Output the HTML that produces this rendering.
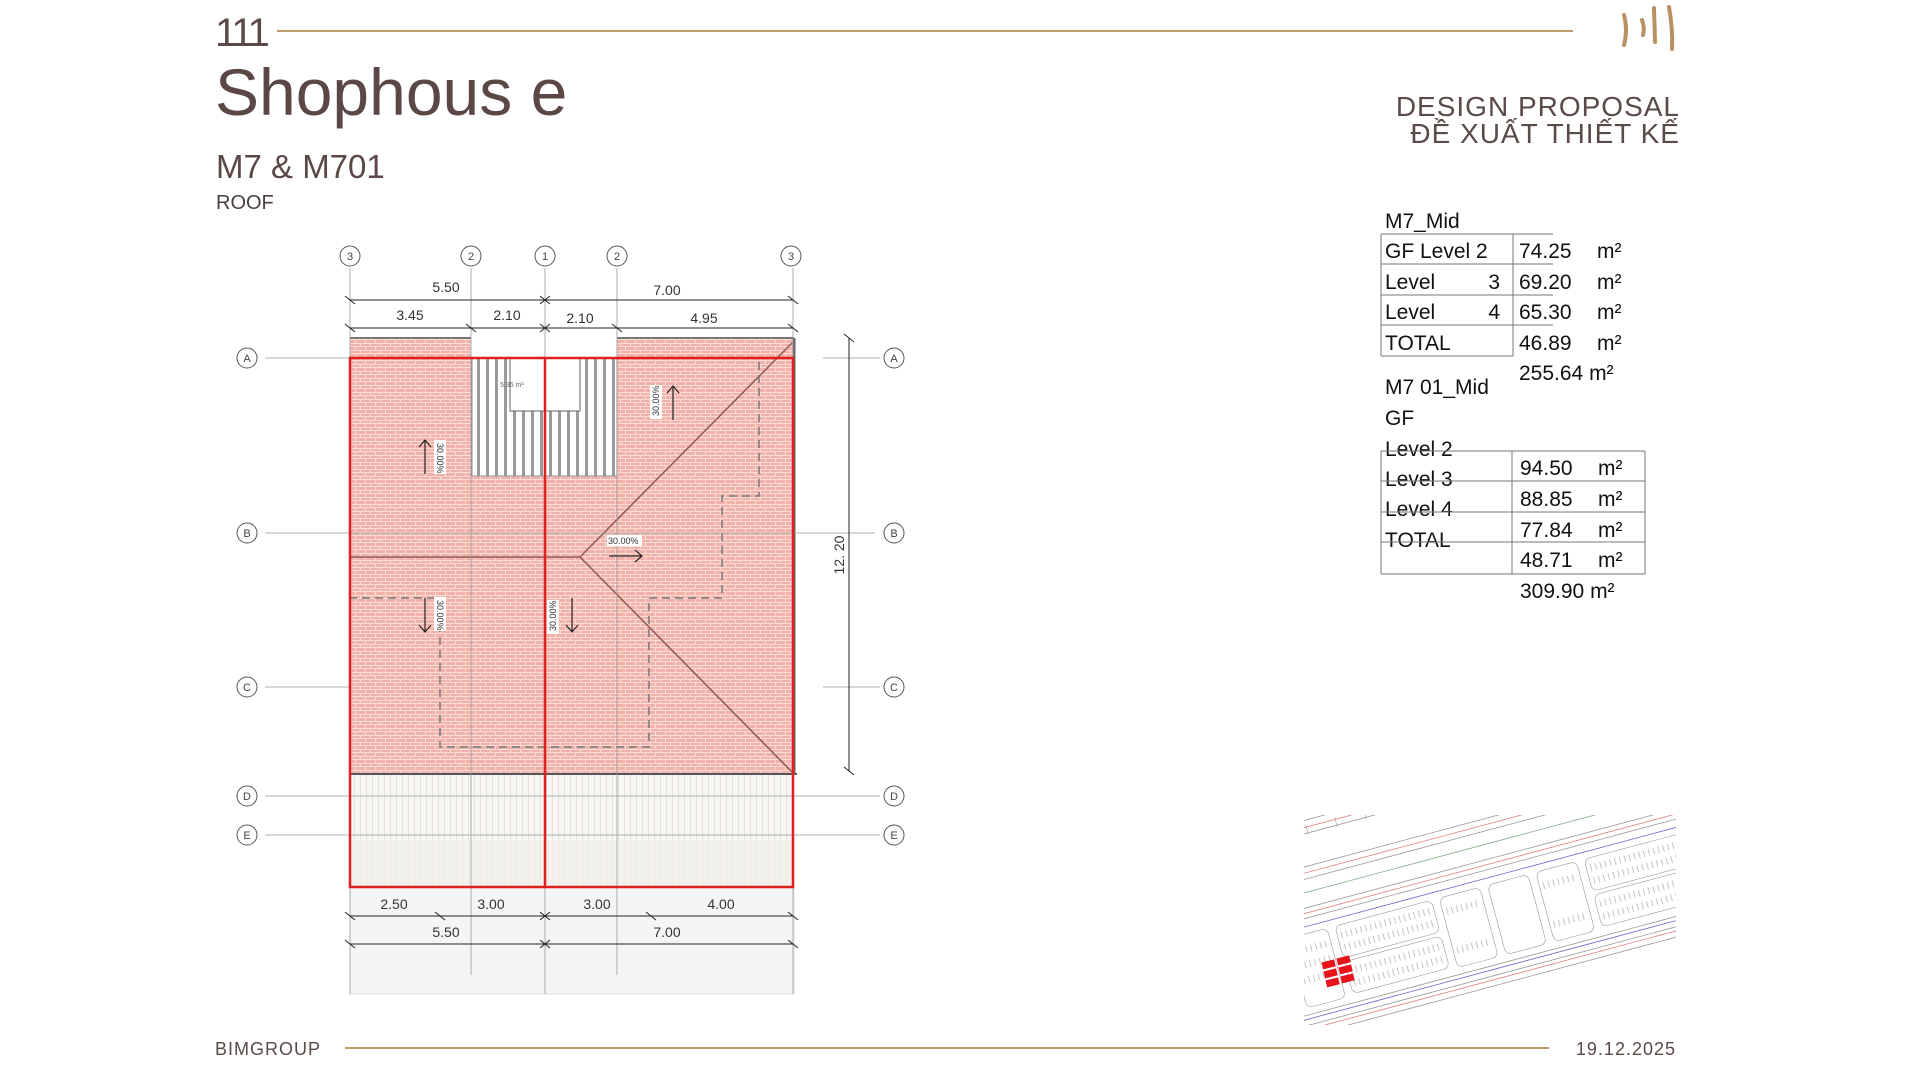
<!DOCTYPE html>
<html><head><meta charset="utf-8"><style>
html,body{margin:0;padding:0;background:#fff;}
body{width:1920px;height:1080px;overflow:hidden;position:relative;font-family:"Liberation Sans",sans-serif;}
svg{position:absolute;left:0;top:0;}
</style></head><body>
<svg width="1920" height="1080" viewBox="0 0 1920 1080" xmlns="http://www.w3.org/2000/svg">
<defs>
<pattern id="tile" width="10" height="7" patternUnits="userSpaceOnUse">
<rect width="10" height="7" fill="#f2b2aa"/>
<path d="M0 0.5H10 M0 3.5H10 M0.5 0V3.5 M5.5 3.5V7" stroke="#fbdcd6" stroke-width="1" fill="none"/>
</pattern>
<pattern id="stair" width="9" height="10" patternUnits="userSpaceOnUse">
<rect width="9" height="10" fill="#fff"/><rect x="0" width="3" height="10" fill="#9a9a9a"/>
</pattern>
<pattern id="lower" width="6" height="10" patternUnits="userSpaceOnUse">
<rect width="6" height="10" fill="#f8f6f3"/><path d="M0.5 0V10" stroke="#e4e0da" stroke-width="1"/>
</pattern>
<clipPath id="sc"><rect x="1304" y="815" width="372" height="210"/></clipPath>
</defs>

<!-- header -->
<text x="215" y="46" font-size="40" fill="#5a4a48" letter-spacing="-3">111</text>
<line x1="277" y1="31" x2="1573" y2="31" stroke="#c09a6b" stroke-width="2"/>
<text x="215" y="115" font-size="66" fill="#5a4746">Shophous e</text>
<text x="216" y="178" font-size="33" fill="#5a4746">M7 &amp; M701</text>
<text x="216" y="209" font-size="20" fill="#4a4040">ROOF</text>
<!-- logo -->
<g stroke="#b89064" stroke-width="4" stroke-linecap="round" fill="none">
<path d="M1624 15 Q1628 30 1624 45"/><path d="M1642 20 Q1645 28 1643 35"/><path d="M1654 8 L1655 42"/><path d="M1669 7 Q1673 30 1672 49"/>
</g>
<text x="1680" y="116" font-size="28" fill="#5a4a48" text-anchor="end" letter-spacing="1">DESIGN PROPOSAL</text>
<text x="1680" y="143" font-size="28" fill="#5a4a48" text-anchor="end" letter-spacing="1">ĐỀ XUẤT THIẾT KẾ</text>

<!-- tables -->
<g font-size="21" fill="#111">
<text x="1385" y="228">M7_Mid</text>
<g stroke="#777" stroke-width="1" fill="none">
<path d="M1381 234 H1553 M1381 264 H1553 M1381 295 H1553 M1381 325 H1553 M1381 356 H1513 M1381 234 V356 M1513 234 V356"/>
</g>
<text x="1385" y="258">GF  Level 2</text>
<text x="1385" y="289">Level</text><text x="1500" y="289" text-anchor="end">3</text>
<text x="1385" y="319">Level</text><text x="1500" y="319" text-anchor="end">4</text>
<text x="1385" y="350">TOTAL</text>
<text x="1519" y="258">74.25</text><text x="1597" y="258">m²</text>
<text x="1519" y="289">69.20</text><text x="1597" y="289">m²</text>
<text x="1519" y="319">65.30</text><text x="1597" y="319">m²</text>
<text x="1519" y="350">46.89</text><text x="1597" y="350">m²</text>
<text x="1519" y="380">255.64 m²</text>
<text x="1385" y="394">M7 01_Mid</text>
<text x="1385" y="425">GF</text>
<text x="1385" y="456">Level 2</text>
<text x="1385" y="486">Level 3</text>
<text x="1385" y="516">Level 4</text>
<text x="1385" y="547">TOTAL</text>
<g stroke="#777" stroke-width="1" fill="none">
<path d="M1381 451 H1645 M1381 481 H1645 M1381 512 H1645 M1381 542 H1645 M1381 574 H1645 M1381 451 V574 M1512 451 V574 M1645 451 V574"/>
</g>
<text x="1520" y="475">94.50</text><text x="1598" y="475">m²</text>
<text x="1520" y="506">88.85</text><text x="1598" y="506">m²</text>
<text x="1520" y="537">77.84</text><text x="1598" y="537">m²</text>
<text x="1520" y="567">48.71</text><text x="1598" y="567">m²</text>
<text x="1520" y="598">309.90 m²</text>
</g>

<!-- plan -->
<g>
<rect x="350" y="338" width="444" height="436" fill="url(#tile)"/>
<rect x="471" y="334" width="146" height="24" fill="#fff"/>
<rect x="472" y="358" width="145" height="118" fill="url(#stair)" stroke="#888"/>
<rect x="510" y="358" width="70" height="53" fill="#fff" stroke="#666"/>
<text x="500" y="387" font-size="7" fill="#666">5.35 m²</text>
<rect x="350" y="774" width="444" height="113" fill="url(#lower)"/>
<rect x="350" y="840" width="444" height="47" fill="#f1f0e8" opacity="0.7"/>
<rect x="350" y="887" width="444" height="107" fill="#f5f5f5" stroke="#ddd"/>
<line x1="350" y1="774" x2="797" y2="774" stroke="#555" stroke-width="2"/>
<line x1="794" y1="338" x2="794" y2="774" stroke="#666" stroke-width="3"/>
<line x1="617" y1="338" x2="794" y2="338" stroke="#777" stroke-width="2"/>
<line x1="350" y1="338" x2="471" y2="338" stroke="#777" stroke-width="2"/>
<g stroke="#8a5a55" stroke-width="1.5" fill="none">
<path d="M350 557 H580 L792 343 M580 557 L792 772"/>
</g>
<path d="M759 362 V496 H722 V598 H649 V747 H440 V598 H350" stroke="#777" stroke-width="1.5" stroke-dasharray="8 5" fill="none"/>
<g stroke="#999" stroke-width="0.8" fill="none">
<path d="M265 358 H350 M823 358 H880 M265 533 H875 M265 687 H350 M823 687 H880 M265 796 H880 M265 835 H880"/>
<path d="M350 268 V994 M471 268 V975 M545 268 V994 M617 268 V975 M793 268 V994"/>
</g>
<g stroke="#e02020" stroke-width="2.5" fill="none">
<path d="M350 358 H793 V887 H350 Z M545 358 V887"/>
</g>
<g font-size="9" fill="#333">
<rect x="434" y="440" width="12" height="34" fill="#fff"/><text transform="translate(437,443) rotate(90)">30.00%</text>
<rect x="434" y="597" width="12" height="34" fill="#fff"/><text transform="translate(437,600) rotate(90)">30.00%</text>
<rect x="547" y="600" width="12" height="34" fill="#fff"/><text transform="translate(556,631) rotate(-90)">30.00%</text>
<rect x="650" y="385" width="12" height="34" fill="#fff"/><text transform="translate(659,416) rotate(-90)">30.00%</text>
<rect x="607" y="535" width="35" height="11" fill="#fff"/><text x="608" y="544">30.00%</text>
</g>
<g stroke="#222" stroke-width="1.2" fill="none">
<path d="M425 474 V440 M419 447 L425 440 L431 447"/>
<path d="M425 598 V632 M419 625 L425 632 L431 625"/>
<path d="M572 598 V632 M566 625 L572 632 L578 625"/>
<path d="M673 420 V386 M667 393 L673 386 L679 393"/>
<path d="M609 556 H642 M635 550 L642 556 L635 562"/>
</g>
<g stroke="#222" stroke-width="1" fill="none">
<path d="M350 300 H793 M350 328 H793 M350 916 H793 M350 944 H793"/>
<path d="M849 338 V771"/>
<path d="M345 296 L355 304 M540 296 L550 304 M788 296 L798 304 M540 304 L550 296"/>
<path d="M345 324 L355 332 M466 324 L476 332 M540 324 L550 332 M540 332 L550 324 M612 324 L622 332 M788 324 L798 332"/>
<path d="M345 912 L355 920 M435 912 L445 920 M540 912 L550 920 M540 920 L550 912 M646 912 L656 920 M788 912 L798 920"/>
<path d="M345 940 L355 948 M540 940 L550 948 M540 948 L550 940 M788 940 L798 948"/>
<path d="M844 334 L854 342 M844 767 L854 775"/>
</g>
<g font-size="14" fill="#333" text-anchor="middle">
<text x="446" y="292">5.50</text><text x="667" y="295">7.00</text>
<text x="410" y="320">3.45</text><text x="507" y="320">2.10</text><text x="580" y="323">2.10</text><text x="704" y="323">4.95</text>
<text x="394" y="909">2.50</text><text x="491" y="909">3.00</text><text x="597" y="909">3.00</text><text x="721" y="909">4.00</text>
<text x="446" y="937">5.50</text><text x="667" y="937">7.00</text>
<text transform="translate(844,555) rotate(-90)">12. 20</text>
</g>
<g stroke="#555" stroke-width="1" fill="#fff">
<circle cx="350" cy="256" r="10"/><circle cx="471" cy="256" r="10"/><circle cx="545" cy="256" r="10"/><circle cx="617" cy="256" r="10"/><circle cx="791" cy="256" r="10"/>
<circle cx="247" cy="358" r="10"/><circle cx="247" cy="533" r="10"/><circle cx="247" cy="687" r="10"/><circle cx="247" cy="796" r="10"/><circle cx="247" cy="835" r="10"/>
<circle cx="894" cy="358" r="10"/><circle cx="894" cy="533" r="10"/><circle cx="894" cy="687" r="10"/><circle cx="894" cy="796" r="10"/><circle cx="894" cy="835" r="10"/>
</g>
<g font-size="11" fill="#444" text-anchor="middle">
<text x="350" y="260">3</text><text x="471" y="260">2</text><text x="545" y="260">1</text><text x="617" y="260">2</text><text x="791" y="260">3</text>
<text x="247" y="362">A</text><text x="247" y="537">B</text><text x="247" y="691">C</text><text x="247" y="800">D</text><text x="247" y="839">E</text>
<text x="894" y="362">A</text><text x="894" y="537">B</text><text x="894" y="691">C</text><text x="894" y="800">D</text><text x="894" y="839">E</text>
</g>
</g>

<!-- site map -->
<g clip-path="url(#sc)">
<g transform="translate(1304,1012) rotate(-15)" fill="none" stroke-width="0.8">
<path d="M-30 -185 H440 M-30 -172 H440 M-30 -140 H440 M-30 -128 H440 M-30 -100 H440 M-30 -90 H440" stroke="#999"/>
<path d="M-30 -178 H440 M-30 -134 H440 M-30 -95 H440" stroke="#e08080"/>
<path d="M-30 -115 H440" stroke="#8a8"/>
<path d="M-30 -82 H440 M-30 8 H440" stroke="#66c"/>
<path d="M-30 4 H440 M-30 14 H440 M-30 24 H440" stroke="#999"/>
<path d="M-30 18 H440" stroke="#e08080"/>
<g stroke="#999" stroke-width="0.6">
<path d="M20 -180 v10 M50 -180 v10 M80 -180 v10 M110 -180 v10 M140 -180 v10 M170 -180 v10 M200 -180 v10 M230 -180 v10"/>
<rect x="4" y="-75" width="40" height="72" rx="6"/>
<rect x="52" y="-75" width="100" height="33" rx="6"/><rect x="52" y="-38" width="100" height="33" rx="6"/>
<rect x="160" y="-75" width="42" height="72" rx="6"/>
<rect x="210" y="-75" width="42" height="72" rx="6"/>
<rect x="260" y="-75" width="42" height="72" rx="6"/>
<rect x="310" y="-75" width="100" height="33" rx="6"/><rect x="310" y="-38" width="100" height="33" rx="6"/>
</g>
<path d="M56 -65 h92 M56 -52 h92 M56 -28 h92 M56 -15 h92 M314 -65 h92 M314 -52 h92 M314 -28 h92 M314 -15 h92 M8 -60 h32 M8 -45 h32 M8 -30 h32 M164 -60 h34 M164 -20 h34 M264 -60 h34 M264 -20 h34" stroke-dasharray="1 4" stroke-width="7" stroke="#c4c4c4"/>
</g>
<g fill="#e8141c">
<rect x="1322" y="961" width="13" height="7" transform="rotate(-14 1328 964)"/>
<rect x="1337" y="957" width="13" height="7" transform="rotate(-14 1343 960)"/>
<rect x="1324" y="970" width="13" height="7" transform="rotate(-14 1330 973)"/>
<rect x="1339" y="966" width="13" height="7" transform="rotate(-14 1345 969)"/>
<rect x="1326" y="979" width="13" height="7" transform="rotate(-14 1332 982)"/>
<rect x="1341" y="975" width="13" height="7" transform="rotate(-14 1347 978)"/>
</g>
</g>

<!-- footer -->
<text x="215" y="1055" font-size="18" fill="#5a4a48" letter-spacing="1">BIMGROUP</text>
<line x1="345" y1="1048" x2="1549" y2="1048" stroke="#c09a6b" stroke-width="2"/>
<text x="1676" y="1055" font-size="18" fill="#5a4a48" text-anchor="end" letter-spacing="1">19.12.2025</text>
</svg>
</body></html>
